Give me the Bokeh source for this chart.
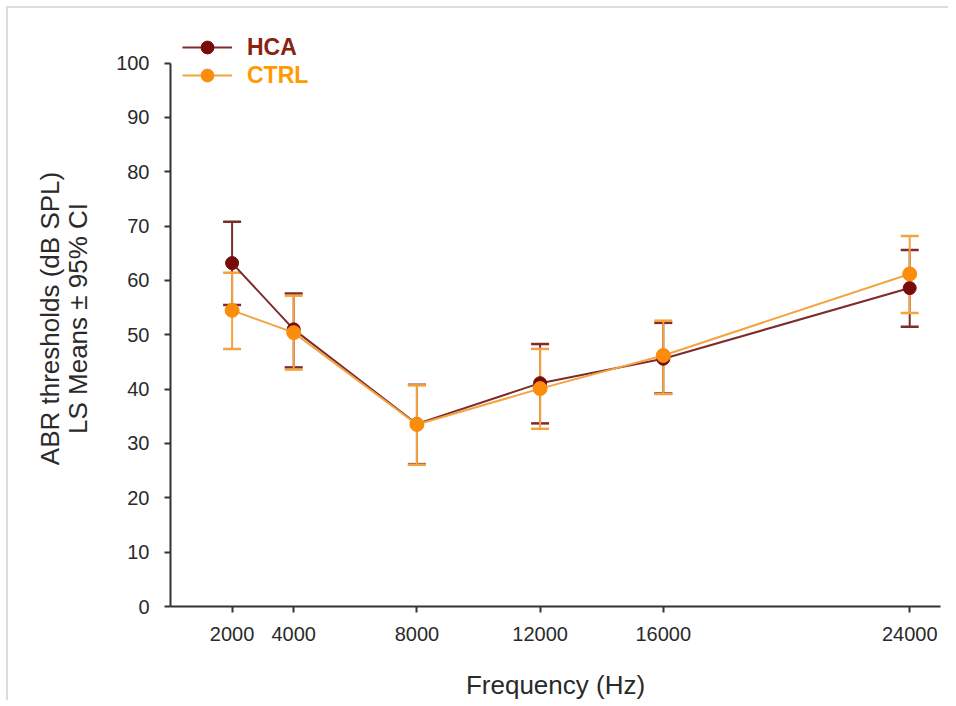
from bokeh.plotting import figure
from bokeh.models import (ColumnDataSource, Whisker, TeeHead, Legend, LegendItem,
                          FixedTicker, Range1d)
from bokeh.embed import file_html
from bokeh.resources import INLINE

# ---- data ----
freq = [2000, 4000, 8000, 12000, 16000, 24000]
hca_mean = [63.2, 51.0, 33.6, 41.1, 45.6, 58.6]
hca_lower = [55.5, 44.0, 26.2, 33.7, 39.2, 51.5]
hca_upper = [70.8, 57.6, 40.8, 48.3, 52.2, 65.6]
ctrl_mean = [54.5, 50.4, 33.5, 40.1, 46.2, 61.2]
ctrl_lower = [47.4, 43.6, 26.1, 32.7, 39.1, 54.0]
ctrl_upper = [61.4, 57.2, 40.7, 47.4, 52.6, 68.2]
y_ticks = [0, 10, 20, 30, 40, 50, 60, 70, 80, 90, 100]

HCA_LINE = "#7d2b2b"
HCA_DOT = "#780a0a"
HCA_TXT = "#8a2210"
CTRL_LINE = "#f4a340"
CTRL_DOT = "#fb8c0c"
CTRL_TXT = "#ff9a00"
FONT = "Liberation Sans"

hca = ColumnDataSource(dict(x=freq, y=hca_mean, lo=hca_lower, hi=hca_upper))
ctrl = ColumnDataSource(dict(x=freq, y=ctrl_mean, lo=ctrl_lower, hi=ctrl_upper))

p = figure(width=942, height=694, output_backend="svg", toolbar_location=None,
           x_range=Range1d(0, 25000), y_range=Range1d(0, 106),
           min_border_left=162, min_border_right=10, min_border_top=22, min_border_bottom=95)
p.styles = {"border-top": "2px solid #dedbd8", "border-left": "2px solid #dedbd8",
            "margin-top": "6px", "margin-left": "6px"}
p.outline_line_color = None
p.grid.grid_line_color = None
p.background_fill_color = "white"
p.border_fill_color = "white"

# error bars
for src, col in ((hca, HCA_LINE), (ctrl, CTRL_LINE)):
    w = Whisker(source=src, base="x", lower="lo", upper="hi", dimension="height",
                line_color=col, line_width=2,
                upper_head=TeeHead(size=18, line_color=col, line_width=2.5),
                lower_head=TeeHead(size=18, line_color=col, line_width=2.5))
    p.add_layout(w)

l1 = p.line("x", "y", source=hca, line_color=HCA_LINE, line_width=2)
s1 = p.scatter("x", "y", source=hca, size=13, fill_color=HCA_DOT, line_color=HCA_DOT)
l2 = p.line("x", "y", source=ctrl, line_color=CTRL_LINE, line_width=2)
s2 = p.scatter("x", "y", source=ctrl, size=14, fill_color=CTRL_DOT, line_color=CTRL_DOT)

# axes
p.xaxis.ticker = FixedTicker(ticks=freq)
p.yaxis.ticker = FixedTicker(ticks=y_ticks)
p.yaxis.bounds = (0, 100)
for ax in (p.xaxis[0], p.yaxis[0]):
    ax.axis_line_color = "#333333"
    ax.axis_line_width = 2
    ax.major_tick_line_color = "#333333"
    ax.major_tick_line_width = 2
    ax.major_tick_out = 6
    ax.major_tick_in = 0
    ax.minor_tick_line_color = None
    ax.major_label_text_font = FONT
    ax.major_label_text_font_size = "20px"
    ax.major_label_text_color = "#2a2a2a"
    ax.axis_label_text_font = FONT
    ax.axis_label_text_font_size = "26px"
    ax.axis_label_text_font_style = "normal"
    ax.axis_label_text_color = "#2a2a2a"
    ax.axis_label_text_line_height = 0.95

p.xaxis.axis_label = "Frequency (Hz)"
p.xaxis.major_label_standoff = 14
p.xaxis.axis_label_standoff = 26
p.yaxis.axis_label = "ABR thresholds (dB SPL)\nLS Means \u00b1 95% CI"
p.yaxis.major_label_standoff = 15
p.yaxis.axis_label_standoff = 20

# legends (one per series so each label keeps its own colour)
for item_label, rends, txtcol, ybot in (("HCA", [l1, s1], HCA_TXT, 543),
                                         ("CTRL", [l2, s2], CTRL_TXT, 515)):
    lg = Legend(items=[LegendItem(label=item_label, renderers=rends)],
                location=(12, ybot), glyph_width=50, glyph_height=32,
                label_standoff=15, padding=0, margin=0, spacing=0,
                border_line_color=None, background_fill_alpha=0,
                label_text_font=FONT, label_text_font_size="23px",
                label_text_font_style="bold", label_text_color=txtcol,
                label_height=32)
    p.add_layout(lg, "center")

open("out.html", "w").write(file_html(p, INLINE))
